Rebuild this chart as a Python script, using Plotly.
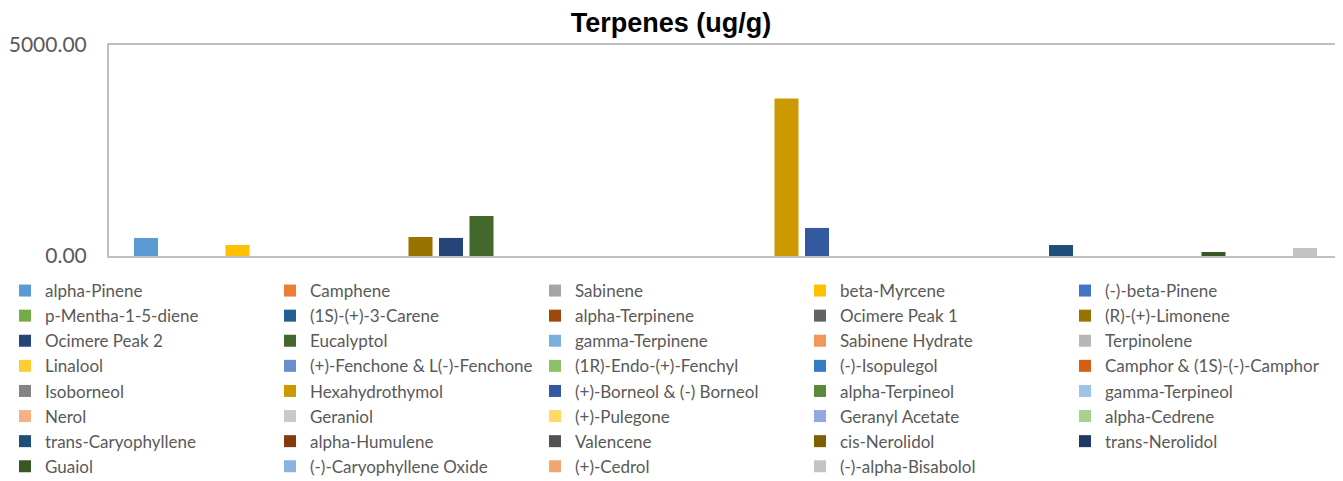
import plotly.graph_objects as go

category = ["Terpenes"]

series_names = [
    "alpha-Pinene", "Camphene", "Sabinene", "beta-Myrcene", "(-)-beta-Pinene",
    "p-Mentha-1-5-diene", "(1S)-(+)-3-Carene", "alpha-Terpinene", "Ocimere Peak 1", "(R)-(+)-Limonene",
    "Ocimere Peak 2", "Eucalyptol", "gamma-Terpinene", "Sabinene Hydrate", "Terpinolene",
    "Linalool", "(+)-Fenchone & L(-)-Fenchone", "(1R)-Endo-(+)-Fenchyl", "(-)-Isopulegol", "Camphor & (1S)-(-)-Camphor",
    "Isoborneol", "Hexahydrothymol", "(+)-Borneol & (-) Borneol", "alpha-Terpineol", "gamma-Terpineol",
    "Nerol", "Geraniol", "(+)-Pulegone", "Geranyl Acetate", "alpha-Cedrene",
    "trans-Caryophyllene", "alpha-Humulene", "Valencene", "cis-Nerolidol", "trans-Nerolidol",
    "Guaiol", "(-)-Caryophyllene Oxide", "(+)-Cedrol", "(-)-alpha-Bisabolol",
]

series_values = [
    428, 0, 0, 261, 0,
    0, 0, 0, 0, 451,
    428, 950, 0, 0, 0,
    0, 0, 0, 0, 0,
    0, 3730, 665, 0, 0,
    0, 0, 0, 0, 0,
    260, 0, 0, 0, 0,
    95, 0, 0, 190,
]

series_colors = [
    "#5B9BD5", "#ED7D31", "#A5A5A5", "#FFC000", "#4472C4", "#70AD47",
    "#255E91", "#9E480E", "#636363", "#997300", "#264478", "#43682B",
    "#7CAFDD", "#F1975A", "#B7B7B7", "#FFCD33", "#698ED0", "#8CC168",
    "#327DC2", "#D26012", "#848484", "#CC9A00", "#335AA1", "#5A8A39",
    "#9DC3E6", "#F4B183", "#C9C9C9", "#FFD966", "#8FAADC", "#A9D18E",
    "#1F4E79", "#843C0C", "#525252", "#7F6000", "#203864", "#385723",
    "#8AB4E0", "#F3A674", "#C3C3C3",
]

y_ticks = [0, 5000]
y_tick_labels = ["0.00", "5000.00"]

fig = go.Figure()
for name, val, col in zip(series_names, series_values, series_colors):
    fig.add_trace(go.Bar(x=category, y=[val], name=name, marker_color=col,
                         marker_line_width=0))

W, H = 1335, 473
ML, MR, MT, MB = 101, 1, 37, 225
PW, PH = W - ML - MR, H - MT - MB

fig.update_layout(
    width=W, height=H,
    margin=dict(l=ML, r=MR, t=MT, b=MB, autoexpand=False),
    paper_bgcolor="white", plot_bgcolor="white",
    barmode="group", bargap=0.0353, bargroupgap=0.213,
    title=dict(text="<b>Terpenes (ug/g)</b>", x=663 / W, xanchor="center",
               xref="container", yref="container",
               y=1 - 5 / H, yanchor="top",
               font=dict(family="Liberation Sans, Arial", size=27, color="#000000")),
    font=dict(family="Lato", color="#595959"),
    showlegend=True,
    legend=dict(orientation="h",
                x=-(ML + 3) / PW, xanchor="left",
                y=-(265 - (MT + PH)) / PH, yanchor="top",
                entrywidth=220, entrywidthmode="pixels",
                traceorder="normal",
                font=dict(family="Lato", size=17, color="#595959"),
                itemclick=False),
    xaxis=dict(showticklabels=False, ticks="", showgrid=False,
               showline=True, linecolor="#BFBFBF", linewidth=2, mirror=True,
               zeroline=False, automargin=False),
    yaxis=dict(range=[0, 5000], tickvals=y_ticks, ticktext=y_tick_labels,
               showgrid=False, zeroline=False, ticks="", automargin=False,
               showline=True, linecolor="#BFBFBF", linewidth=2, mirror=True,
               tickfont=dict(family="Lato", size=21, color="#595959"),
               ticklabelstandoff=16),
)

fig.write_html("out.html")
